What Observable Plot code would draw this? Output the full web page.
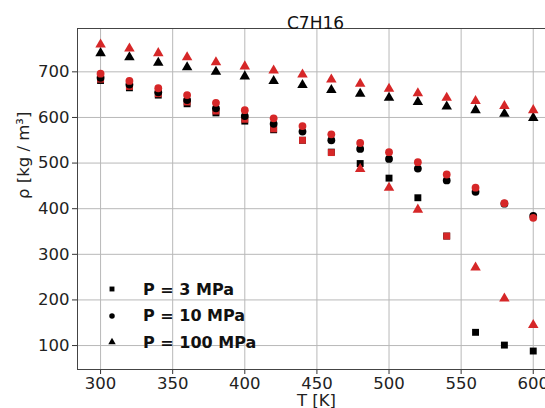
<!DOCTYPE html>
<html>
<head>
<meta charset="utf-8">
<script src="https://cdn.jsdelivr.net/npm/d3@7"></script>
<script src="https://cdn.jsdelivr.net/npm/@observablehq/plot@0.6"></script>
<style>
  html, body { margin: 0; padding: 0; background: #fff; overflow: hidden; }
  #wrap { position: relative; width: 545px; height: 408px; font-family: "DejaVu Sans", sans-serif; }
  #legend { position: absolute; left: 104px; top: 276px; font-weight: bold; font-size: 16px; color: #111; }
  #legend .row { display: flex; align-items: center; height: 26.5px; }
  #legend svg { width: 16px; height: 16px; margin-right: 23px; }
</style>
</head>
<body>
<div id="wrap"></div>
<script>
const title = "C7H16";
const xLabel = "T [K]";
const yLabel = "ρ [kg / m³]";
const temperatures = [300, 320, 340, 360, 380, 400, 420, 440, 460, 480, 500, 520, 540, 560, 580, 600];
const xTicks = [300, 350, 400, 450, 500, 550, 600];
const yTicks = [100, 200, 300, 400, 500, 600, 700];
const legendLabels = ["P = 3 MPa", "P = 10 MPa", "P = 100 MPa"];

// black series
const blackP3   = [681, 665, 649, 630, 610, 592, 573, 550, 524, 499, 467, 424, 340, 129, 101, 88];
const blackP10  = [687, 672, 655, 638, 620, 603, 586, 569, 550, 531, 509, 488, 462, 437, 411, 384];
const blackP100 = [741, 732, 720, 710, 700, 690, 680, 671, 660, 652, 643, 634, 624, 616, 608, 599];
// red series
const redP3     = [684, 668, 652, 634, 614, 596, 575, 550, 523, 487, 446, 398, 340, 271, 203, 145];
const redP3Kind = ["square","square","square","square","square","square","square","square","square",
                   "triangle","triangle","triangle","square","triangle","triangle","triangle"];
const redP10    = [696, 680, 664, 649, 632, 616, 598, 581, 563, 544, 524, 502, 475, 446, 412, 380];
const redP100   = [760, 751, 741, 732, 721, 712, 703, 694, 683, 674, 663, 653, 643, 636, 625, 616];

const BLACK = "#000000";
const RED = "#d62728";

const rows = (vals) => temperatures.map((t, i) => ({T: t, rho: vals[i], kind: redP3Kind[i]}));
const r3 = rows(redP3);

const dots = (data, symbol, fill) => Plot.dot(data, {x: "T", y: "rho", symbol, fill, r: 3.9, stroke: "none"});

const chart = Plot.plot({
  width: 545,
  height: 408,
  marginLeft: 77,
  marginRight: 0,
  marginTop: 28,
  marginBottom: 39,
  style: {fontFamily: "DejaVu Sans", fontSize: "16.5px", color: "#222", background: "white", overflow: "hidden"},
  x: {domain: [284, 608.5]},
  y: {domain: [47.5, 795]},
  marks: [
    Plot.gridX(xTicks, {stroke: "#b8b8b8", strokeOpacity: 1, strokeWidth: 1}),
    Plot.gridY(yTicks, {stroke: "#b8b8b8", strokeOpacity: 1, strokeWidth: 1}),
    Plot.axisX(xTicks, {tickSize: 5, tickPadding: 3, label: null, tickFormat: d => String(d), stroke: "#333"}),
    Plot.axisY(yTicks, {tickSize: 5, tickPadding: 3, label: null, tickFormat: d => String(d), stroke: "#333"}),
    Plot.ruleX([284], {stroke: "#444", strokeWidth: 1}),
    Plot.ruleY([47.5, 795], {stroke: "#444", strokeWidth: 1}),
    dots(rows(blackP3), "square", BLACK),
    dots(r3.filter(d => d.kind === "square"), "square", RED),
    dots(r3.filter(d => d.kind === "triangle"), "triangle", RED),
    dots(rows(blackP10), "circle", BLACK),
    dots(rows(redP10), "circle", RED),
    dots(rows(blackP100), "triangle", BLACK),
    dots(rows(redP100), "triangle", RED),
    Plot.text([title], {frameAnchor: "top", dy: -12, dx: 4, fontSize: 17, fill: "#111"}),
    Plot.text([xLabel], {frameAnchor: "bottom", dy: 36, dx: 5, fontSize: 16.5, fill: "#222"}),
    Plot.text([yLabel], {frameAnchor: "left", dx: -54, rotate: -90, fontSize: 16.5, fill: "#222"})
  ]
});

const wrap = document.getElementById("wrap");
wrap.appendChild(chart);

// legend (inside the axes, lower left)
const legend = document.createElement("div");
legend.id = "legend";
const shapes = [d3.symbolSquare, d3.symbolCircle, d3.symbolTriangle];
legendLabels.forEach((lab, i) => {
  const row = document.createElement("div");
  row.className = "row";
  const s = d3.create("svg").attr("viewBox", "-8 -8 16 16");
  s.append("path").attr("d", d3.symbol(shapes[i], 24)()).attr("fill", BLACK);
  row.appendChild(s.node());
  const span = document.createElement("span");
  span.textContent = lab;
  row.appendChild(span);
  legend.appendChild(row);
});
wrap.appendChild(legend);
</script>
</body>
</html>
